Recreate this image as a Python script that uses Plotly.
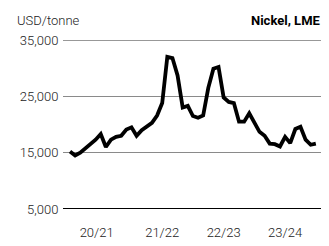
import plotly.graph_objects as go

# Monthly LME nickel price, USD/tonne
month_index = list(range(49))
nickel_price = [15200, 14500, 15000, 15700, 16500, 17300, 18300, 16000, 17300, 17800,
                18000, 19100, 19500, 18000, 19000, 19600, 20300, 21600, 23800, 32000,
                31800, 28700, 23000, 23300, 21500, 21200, 21600, 26500, 29900, 30200,
                24800, 24000, 23800, 20500, 20500, 22000, 20200, 18700, 18000, 16600,
                16500, 16100, 17800, 16700, 19200, 19600, 17300, 16400, 16600]

year_tick_pos = [5.2, 18.0, 30.0, 42.0]
year_tick_text = ["20/21", "21/22", "22/23", "23/24"]
y_tick_vals = [5000, 15000, 25000, 35000]
y_tick_text = ["5,000", "15,000", "25,000", "35,000"]

font_family = "Roboto, sans-serif"

fig = go.Figure()
fig.add_trace(go.Scatter(
    x=month_index, y=nickel_price, mode="lines",
    line=dict(color="#000000", width=3.8),
    hoverinfo="skip", showlegend=False,
))

# The page body has an 8px default margin, so the figure is sized to fit the window.
fig.update_layout(
    width=321, height=238,
    margin=dict(l=55, r=6, t=32, b=29),
    paper_bgcolor="white", plot_bgcolor="white",
    font=dict(family=font_family, size=13, color="#222222", weight=300),
    xaxis=dict(
        range=[-1.37, 49.4], showgrid=False, zeroline=False, showline=False,
        tickmode="array", tickvals=year_tick_pos, ticktext=year_tick_text,
        ticks="outside", ticklen=11, tickcolor="rgba(0,0,0,0)",
        tickfont=dict(size=13, color="#222222", family=font_family, weight=300),
    ),
    yaxis=dict(
        range=[5000, 35000], showgrid=True, gridcolor="#8a8a8a", gridwidth=1,
        zeroline=False, showline=False,
        tickmode="array", tickvals=y_tick_vals, ticktext=y_tick_text,
        ticks="outside", ticklen=1, tickcolor="rgba(0,0,0,0)",
        tickfont=dict(size=13, color="#222222", family=font_family, weight=300),
    ),
    shapes=[
        dict(type="line", xref="paper", yref="y", x0=0, x1=1, y0=35000, y1=35000,
             line=dict(color="#333333", width=1.2)),
        dict(type="line", xref="paper", yref="y", x0=0, x1=1, y0=5000, y1=5000,
             line=dict(color="#000000", width=2)),
    ],
    annotations=[
        dict(text="USD/tonne", xref="paper", yref="paper", x=-48/260, y=1.0,
             xanchor="left", yanchor="bottom", yshift=10, showarrow=False,
             font=dict(size=13, color="#222222", family=font_family, weight=300)),
        dict(text="Nickel, LME", xref="paper", yref="paper", x=1.0, y=1.0,
             xanchor="right", yanchor="bottom", yshift=10, showarrow=False,
             font=dict(size=13, color="#000000", family=font_family, weight=700)),
    ],
)

fig.write_html("out.html")
